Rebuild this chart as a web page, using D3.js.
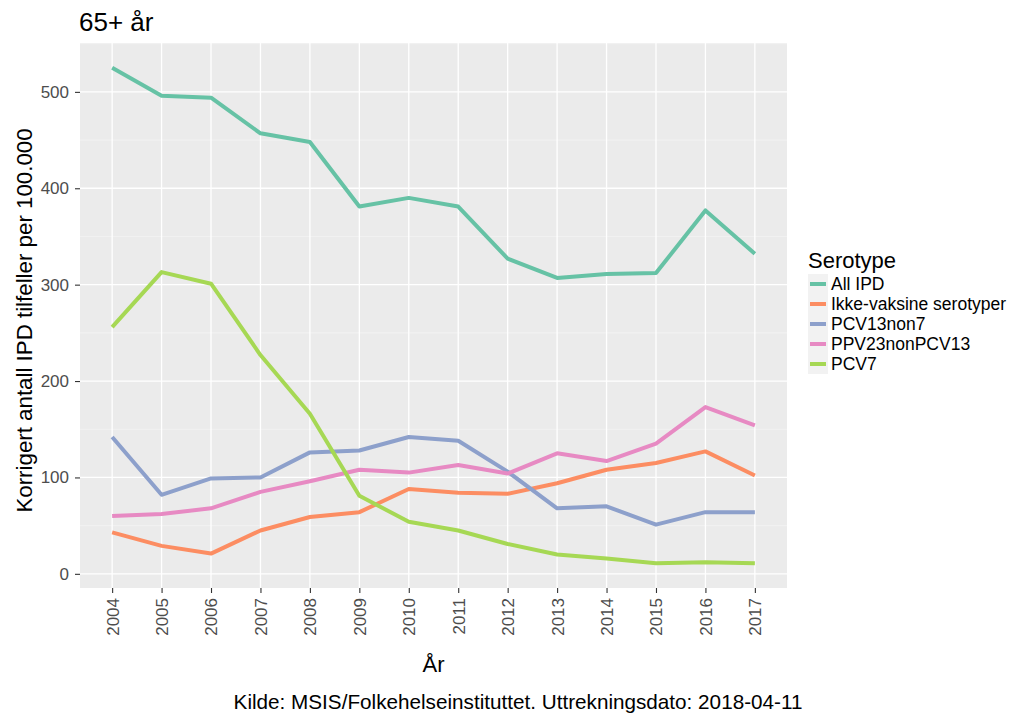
<!DOCTYPE html>
<html><head><meta charset="utf-8">
<script src="https://cdn.jsdelivr.net/npm/d3@7"></script>
<style>body{margin:0;background:#fff}svg{display:block}text{font-family:"Liberation Sans",Arial,sans-serif}</style>
</head><body><svg id="c" width="1024" height="724"></svg>
<script>
const years = [2004,2005,2006,2007,2008,2009,2010,2011,2012,2013,2014,2015,2016,2017];
const seriesNames = ["All IPD","Ikke-vaksine serotyper","PCV13non7","PPV23nonPCV13","PCV7"];
const allIPD = [525,496,494,457,448,381,390,381,327,307,311,312,377,332];
const ikkeVaksine = [43,29,21,45,59,64,88,84,83,94,108,115,127,102];
const pcv13non7 = [142,82,99,100,126,128,142,138,106,68,70,51,64,64];
const ppv23nonPCV13 = [60,62,68,85,96,108,105,113,104,125,117,135,173,154];
const pcv7 = [256,313,301,227,166,81,54,45,31,20,16,11,12,11];
const yTicks = [0,100,200,300,400,500];
const colors = ["#66C2A5","#FC8D62","#8DA0CB","#E78AC3","#A6D854"];
const seriesValues = [allIPD, ikkeVaksine, pcv13non7, ppv23nonPCV13, pcv7];

const svg = d3.select("#c");
const P = {l:80, r:787, t:43, b:588};
const xPad = (years[years.length-1]-years[0])*0.05;
const x = d3.scaleLinear().domain([years[0]-xPad, years[years.length-1]+xPad]).range([P.l,P.r]);
const all = seriesValues.flat();
const ymin = d3.min(all), ymax = d3.max(all), yPad=(ymax-ymin)*0.05;
const y = d3.scaleLinear().domain([ymin-yPad, ymax+yPad]).range([P.b,P.t]);

svg.append("rect").attr("x",P.l).attr("y",P.t).attr("width",P.r-P.l).attr("height",P.b-P.t).attr("fill","#EBEBEB");
const minor = [50,150,250,350,450,550].filter(v=>y(v)>=P.t);
svg.append("g").selectAll("line").data(minor).join("line")
  .attr("x1",P.l).attr("x2",P.r).attr("y1",d=>y(d)).attr("y2",d=>y(d))
  .attr("stroke","#F5F5F5").attr("stroke-width",0.7);
svg.append("g").selectAll("line").data(yTicks).join("line")
  .attr("x1",P.l).attr("x2",P.r).attr("y1",d=>y(d)).attr("y2",d=>y(d))
  .attr("stroke","#fff").attr("stroke-width",1.3);
svg.append("g").selectAll("line").data(years).join("line")
  .attr("y1",P.t).attr("y2",P.b).attr("x1",d=>x(d)).attr("x2",d=>x(d))
  .attr("stroke","#fff").attr("stroke-width",1.3);

const yAxis = d3.axisLeft(y).tickValues(yTicks).tickSize(5).tickPadding(6).tickFormat(d3.format("d"));
const gy = svg.append("g").attr("transform",`translate(${P.l},0)`).call(yAxis);
gy.select(".domain").remove();
gy.selectAll("line").attr("stroke","#333").attr("stroke-width",1.1);
gy.selectAll("text").attr("fill","#4D4D4D").attr("font-size",17);

const xAxis = d3.axisBottom(x).tickValues(years).tickSize(5).tickPadding(4).tickFormat(d3.format("d"));
const gx = svg.append("g").attr("transform",`translate(0,${P.b})`).call(xAxis);
gx.select(".domain").remove();
gx.selectAll("line").attr("stroke","#333").attr("stroke-width",1.1);
gx.selectAll("text").attr("fill","#4D4D4D").attr("font-size",17)
  .attr("transform","rotate(-90)").attr("text-anchor","end").attr("dy","0.35em").attr("x",-10).attr("y",0);

const line = d3.line().x((d,i)=>x(years[i])).y(d=>y(d));
svg.append("g").selectAll("path").data(seriesValues).join("path")
  .attr("d",d=>line(d)).attr("fill","none").attr("stroke",(d,i)=>colors[i])
  .attr("stroke-width",4).attr("stroke-linejoin","round");

svg.append("text").attr("x",79).attr("y",31).attr("font-size",26).attr("fill","#000").text("65+ år");
svg.append("text").attr("transform",`translate(32,${(P.t+P.b)/2+5}) rotate(-90)`).attr("text-anchor","middle")
  .attr("font-size",22.3).attr("fill","#000").text("Korrigert antall IPD tilfeller per 100.000");
svg.append("text").attr("x",(P.l+P.r)/2).attr("y",672).attr("text-anchor","middle").attr("font-size",22).text("År");
svg.append("text").attr("x",518).attr("y",709).attr("text-anchor","middle").attr("font-size",20.7).text("Kilde: MSIS/Folkehelseinstituttet. Uttrekningsdato: 2018-04-11");

const lg = svg.append("g").attr("transform","translate(808,0)");
lg.append("text").attr("x",0).attr("y",268).attr("font-size",22).text("Serotype");
const it = lg.selectAll("g.it").data(seriesNames).join("g").attr("class","it")
  .attr("transform",(d,i)=>`translate(0,${274+i*20})`);
it.append("rect").attr("width",20).attr("height",20).attr("fill","#F2F2F2");
it.append("line").attr("x1",2).attr("x2",18).attr("y1",10).attr("y2",10)
  .attr("stroke",(d,i)=>colors[i]).attr("stroke-width",4);
it.append("text").attr("x",23).attr("y",16.3).attr("font-size",17.5).text(d=>d);
</script></body></html>
